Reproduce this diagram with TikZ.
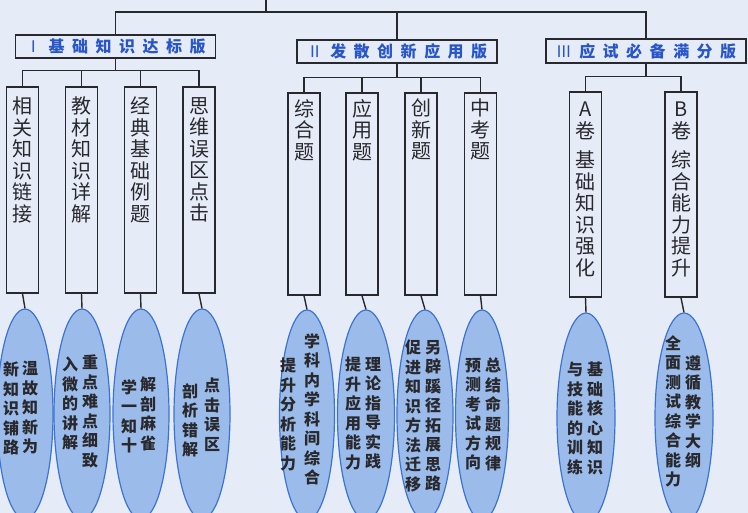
\documentclass[tikz,border=0pt]{standalone}
\usepackage{fontspec}
\setmainfont{Noto Sans CJK SC}
\usetikzlibrary{shapes.geometric}
\definecolor{bgc}{RGB}{230,236,247}
\definecolor{ellf}{RGB}{155,188,234}
\definecolor{elld}{RGB}{60,115,210}
\definecolor{hblue}{RGB}{40,85,200}
\definecolor{ink}{RGB}{40,40,45}
\newcommand\hs{\hspace{7.5pt}}
\begin{document}
\begin{tikzpicture}[x=1pt,y=-1pt,
 line/.style={draw=ink,line width=1.4pt},
 hbox/.style={draw=ink,line width=1.6pt,minimum width=200,minimum height=23,inner sep=0,text=hblue,font=\fontsize{16}{16}\selectfont\bfseries},
 vbox/.style={draw=ink,line width=1.6pt,minimum width=32,inner sep=0},
 vtext/.style={anchor=north,inner sep=0,align=center,text=ink,font=\fontsize{20}{21.5}\selectfont},
 ell/.style={ellipse,draw=elld,line width=1.2pt,fill=ellf,minimum width=56,minimum height=210,inner sep=0},
 etext/.style={anchor=north,inner sep=0,align=center,text=ink,font=\fontsize{16}{19.5}\selectfont\bfseries},
]
\useasboundingbox (0,0) rectangle (748,513);
\fill[bgc] (0,0) rectangle (748,513);

% headers
\node[hbox] (h1) at (115.5,46.5) {{\mdseries Ⅰ}\hs 基\hs 础\hs 知\hs 识\hs 达\hs 标\hs 版};
\node[hbox] (h2) at (397,51.5) {{\mdseries Ⅱ}\hs 发\hs 散\hs 创\hs 新\hs 应\hs 用\hs 版};
\node[hbox,minimum height=24] (h3) at (646,51) {{\mdseries Ⅲ}\hs 应\hs 试\hs 必\hs 备\hs 满\hs 分\hs 版};

% top connector
\coordinate (top) at (266,0);
\draw[line] (top) -- ++(0,12) coordinate (tj);
\draw[line] (h1.north) |- (tj) -| (h3.north);
\draw[line] (h2.north) -- (h2.north |- tj);

% group 1 boxes
\node[vbox,minimum height=206] (b11) at (22.5,190) {};
\node[vbox,minimum height=206] (b12) at (81.5,190) {};
\node[vbox,minimum height=206] (b13) at (140.5,190) {};
\node[vbox,minimum height=206] (b14) at (199,190) {};
\node[vtext] (t11) at (22.5,97) {相\\关\\知\\识\\链\\接};
\node[vtext] (t12) at (81.5,97) {教\\材\\知\\识\\详\\解};
\node[vtext] (t13) at (140.5,97) {经\\典\\基\\础\\例\\题};
\node[vtext] (t14) at (199,97) {思\\维\\误\\区\\点\\击};
\draw[line] (h1.south) -- ++(0,12) coordinate (j1);
\draw[line] (b11.north) |- (j1) -| (b14.north);
\draw[line] (b12.north) -- (b12.north |- j1);
\draw[line] (b13.north) -- (b13.north |- j1);

% group 2 boxes
\node[vbox,minimum height=202] (b21) at (304,194) {};
\node[vbox,minimum height=202] (b22) at (362,194) {};
\node[vbox,minimum height=202] (b23) at (421,194) {};
\node[vbox,minimum height=202] (b24) at (480.5,194) {};
\node[vtext] (t21) at (304,99) {综\\合\\题};
\node[vtext] (t22) at (362,99) {应\\用\\题};
\node[vtext] (t23) at (421,99) {创\\新\\题};
\node[vtext] (t24) at (480.5,99) {中\\考\\题};
\draw[line] (h2.south) -- ++(0,14) coordinate (j2);
\draw[line] (b21.north) |- (j2) -| (b24.north);
\draw[line] (b22.north) -- (b22.north |- j2);
\draw[line] (b23.north) -- (b23.north |- j2);

% group 3 boxes
\node[vbox,minimum height=205] (b31) at (585.5,194.5) {};
\node[vbox,minimum height=205] (b32) at (681,194.5) {};
\node[vtext] (t31) at (585.5,102) {A\\卷\\[8pt]基\\础\\知\\识\\强\\化};
\node[vtext] (t32) at (681,102) {B\\卷\\[8pt]综\\合\\能\\力\\提\\升};
\draw[line] (h3.south) -- ++(0,13) coordinate (j3);
\draw[line] (b31.north) |- (j3) -| (b32.north);

% ellipses
\node[ell] (e11) at (25,414) {};
\node[ell] (e12) at (82,414) {};
\node[ell] (e13) at (141,414) {};
\node[ell] (e14) at (202,414) {};
\node[ell,minimum width=55] (e21) at (307,415) {};
\node[ell,minimum width=57] (e22) at (366,415) {};
\node[ell,minimum width=56] (e23) at (425,415) {};
\node[ell,minimum width=53] (e24) at (482,415) {};
\node[ell,minimum width=58] (e31) at (586,418) {};
\node[ell,minimum width=58] (e32) at (684,418) {};
\foreach \b/\e in {b11/e11,b12/e12,b13/e13,b14/e14,b21/e21,b22/e22,b23/e23,b24/e24,b31/e31,b32/e32}
  \draw[line] (\b.south) -- (\e.north);

% ellipse texts
\node[etext] (x11r) at (30,361) {温\\故\\知\\新\\为};
\node[etext] (x11l) at (11,362) {新\\知\\识\\铺\\路};
\node[etext] (x12r) at (90,355) {重\\点\\难\\点\\细\\致};
\node[etext] (x12l) at (70,357) {入\\微\\的\\讲\\解};
\node[etext] (x13r) at (148,377) {解\\剖\\麻\\雀};
\node[etext] (x13l) at (129,379) {学\\一\\知\\十};
\node[etext] (x14r) at (212,378) {点\\击\\误\\区};
\node[etext] (x14l) at (190,383) {剖\\析\\错\\解};

\node[etext] (x21r) at (312,333) {学\\科\\内\\学\\科\\间\\综\\合};
\node[etext] (x21l) at (288,358) {提\\升\\分\\析\\能\\力};
\node[etext] (x22r) at (373,357) {理\\论\\指\\导\\实\\践};
\node[etext] (x22l) at (353,357) {提\\升\\应\\用\\能\\力};
\node[etext] (x23r) at (433,340) {另\\辟\\蹊\\径\\拓\\展\\思\\路};
\node[etext] (x23l) at (413,340) {促\\进\\知\\识\\方\\法\\迁\\移};
\node[etext] (x24r) at (493,358) {总\\结\\命\\题\\规\\律};
\node[etext] (x24l) at (473,358) {预\\测\\考\\试\\方\\向};

\node[etext] (x31r) at (595,362) {基\\础\\核\\心\\知\\识};
\node[etext] (x31l) at (575,362) {与\\技\\能\\的\\训\\练};
\node[etext] (x32r) at (693,355) {遵\\循\\教\\学\\大\\纲};
\node[etext] (x32l) at (673,335) {全\\面\\测\\试\\综\\合\\能\\力};
\end{tikzpicture}
\end{document}
